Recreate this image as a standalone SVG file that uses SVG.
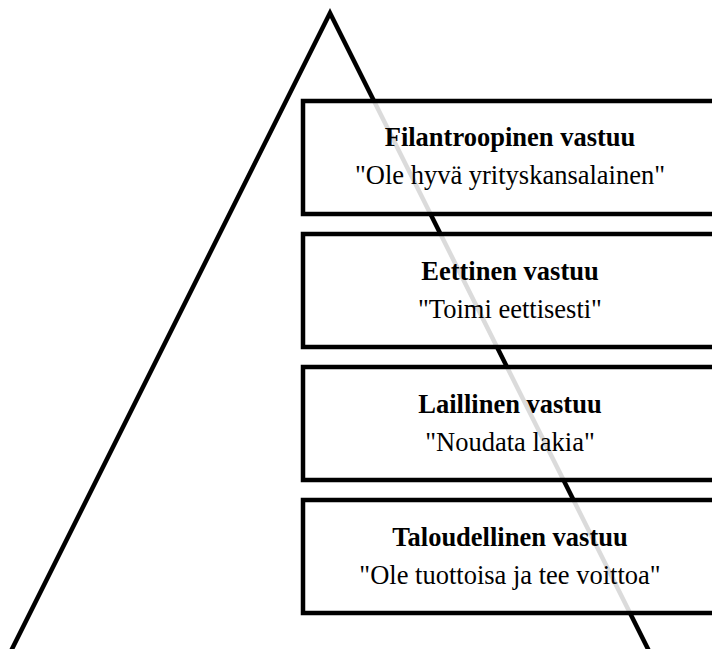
<svg xmlns="http://www.w3.org/2000/svg" width="712" height="649" viewBox="0 0 712 649">
<style>
.box{fill:#fff;fill-opacity:0.86;stroke:#000;stroke-width:4.5}
.t{font-family:"Liberation Serif","Times New Roman",serif;font-size:26.5px;text-anchor:middle;fill:#000}
.b{font-weight:bold}
</style>
<rect width="712" height="649" fill="#fff"/>
<g id="connectors">
<path d="M10,653 L330,13 L650,653" fill="none" stroke="#000" stroke-width="4.5" stroke-linejoin="miter"/>
</g>
<g id="n1"><rect class="box" x="303" y="101" width="420" height="113"/>
<text class="t b" x="510" y="146">Filantroopinen vastuu</text>
<text class="t" x="510" y="184">"Ole hyvä yrityskansalainen"</text></g>
<g id="n2"><rect class="box" x="303" y="234" width="420" height="113"/>
<text class="t b" x="510" y="280">Eettinen vastuu</text>
<text class="t" x="510" y="318">"Toimi eettisesti"</text></g>
<g id="n3"><rect class="box" x="303" y="367" width="420" height="113"/>
<text class="t b" x="510" y="413">Laillinen vastuu</text>
<text class="t" x="510" y="451">"Noudata lakia"</text></g>
<g id="n4"><rect class="box" x="303" y="500" width="420" height="113"/>
<text class="t b" x="510" y="546">Taloudellinen vastuu</text>
<text class="t" x="510" y="584">"Ole tuottoisa ja tee voittoa"</text></g>
</svg>
